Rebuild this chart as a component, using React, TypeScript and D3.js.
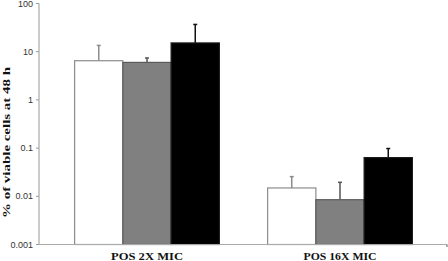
import React from "react";
import * as d3 from "d3";

const categories = ["POS 2X MIC", "POS 16X MIC"];
const seriesNames = ["A", "B", "C"];
const values = [
  [6.5, 6.0, 15.2],
  [0.0149, 0.0085, 0.0635],
];
const errorTops = [
  [13.5, 7.4, 36.8],
  [0.0256, 0.0195, 0.098],
];
const yTicks = [0.001, 0.01, 0.1, 1, 10, 100];
const yTickLabels = ["0.001", "0.01", "0.1", "1", "10", "100"];

const fills = ["#ffffff", "#808080", "#000000"];
const strokes = ["#8c8c8c", "#5a5a5a", "#1a1a1a"];
const errColors = ["#8c8c8c", "#555555", "#111111"];

export default function App() {
  const W = 448, H = 261;
  const x0 = 39, x1 = 447, yTop = 3.5, yBot = 244.5;
  const y = d3.scaleLog().domain([0.001, 100]).range([yBot, yTop]);
  const xg = d3.scaleBand<string>().domain(categories).range([50.5, 436.5]).paddingInner(0.25).paddingOuter(0.125);
  const xs = d3.scaleBand<string>().domain(seriesNames).range([0, xg.bandwidth()]).padding(0);

  return (
    <svg width={W} height={H} style={{ position: "absolute", left: 0, top: 0 }}>
      <rect width={W} height={H} fill="#fff" />
      {categories.map((c, ci) =>
        seriesNames.map((s, si) => {
          const bx = (xg(c) as number) + (xs(s) as number);
          const bw = xs.bandwidth();
          const ty = y(values[ci][si]);
          const ey = y(errorTops[ci][si]);
          const cx = bx + bw / 2;
          return (
            <g key={c + s}>
              <line x1={cx} x2={cx} y1={ty} y2={ey} stroke={errColors[si]} strokeWidth={1.5} />
              <line x1={cx - 2} x2={cx + 2} y1={ey} y2={ey} stroke={errColors[si]} strokeWidth={1.5} />
              <rect x={bx} y={ty} width={bw} height={yBot - ty} fill={fills[si]} stroke={strokes[si]} strokeWidth={1.2} />
            </g>
          );
        })
      )}
      <line x1={x0} x2={x0} y1={yTop} y2={yBot} stroke="#999" strokeWidth={1} />
      <line x1={x0} x2={x1} y1={yBot} y2={yBot} stroke="#aaa" strokeWidth={1.2} />
      <line x1={x1} x2={x1} y1={yBot} y2={yBot + 2.5} stroke="#555" strokeWidth={1} />
      {yTicks.map((t, i) => (
        <g key={t}>
          <line x1={x0 - 3} x2={x0} y1={y(t)} y2={y(t)} stroke="#999" strokeWidth={1} />
          <text x={33} y={y(t)} dy="0.35em" textAnchor="end" fontFamily="Liberation Sans, Arial, sans-serif" fontSize={9} fill="#333">
            {yTickLabels[i]}
          </text>
        </g>
      ))}
      {categories.map((c, i) => (
        <text key={c} x={(xg(c) as number) + xg.bandwidth() / 2} y={259.5} textAnchor="middle" fontFamily="Liberation Serif, Times New Roman, serif" fontWeight="bold" fontSize={10.5} fill="#111" textLength={i === 0 ? 72 : 73} lengthAdjust="spacingAndGlyphs">
          {c}
        </text>
      ))}
      <text transform={`translate(9.5,142.5) rotate(-90)`} textAnchor="middle" fontFamily="Liberation Serif, Times New Roman, serif" fontWeight="bold" fontSize={11} fill="#111" textLength={151} lengthAdjust="spacingAndGlyphs">
        % of viable cells at 48 h
      </text>
    </svg>
  );
}
